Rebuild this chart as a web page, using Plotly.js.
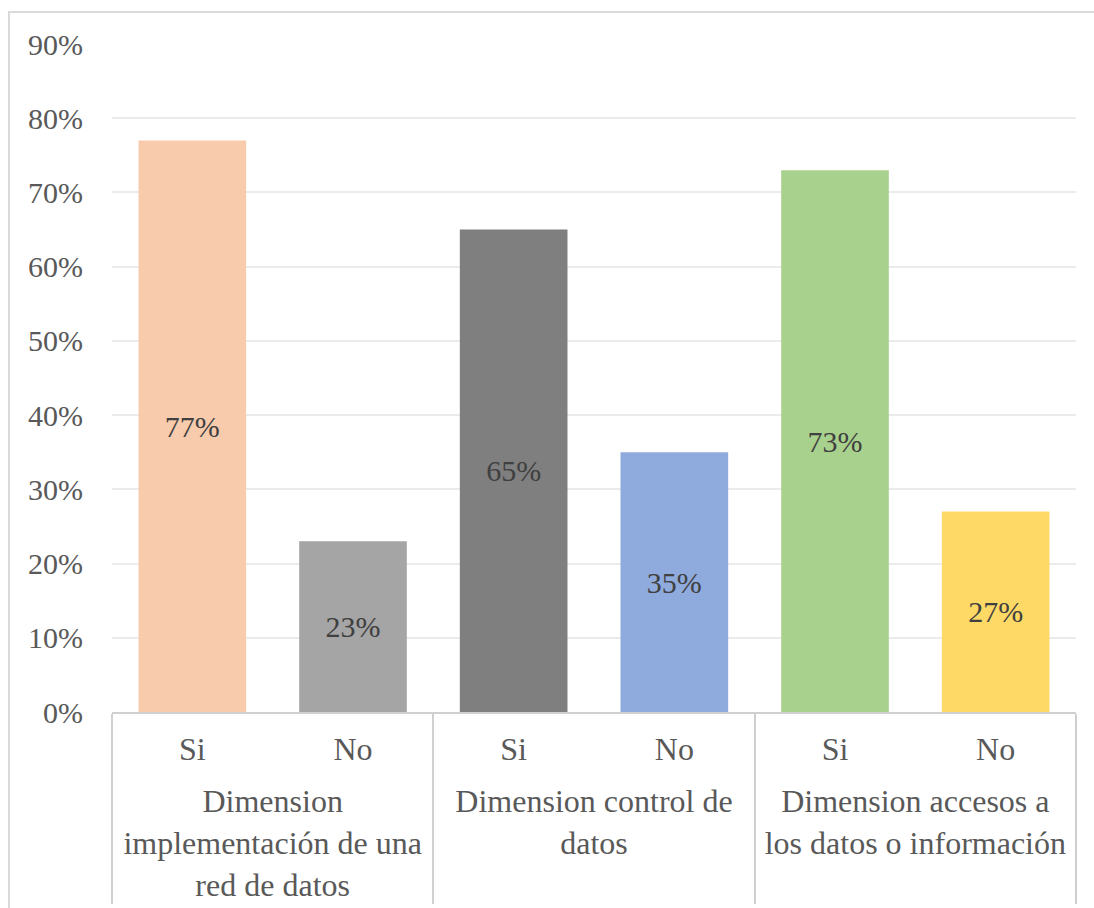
<!DOCTYPE html>
<html>
<head>
<meta charset="utf-8">
<script src="https://cdn.plot.ly/plotly-3.0.1.min.js"></script>
<style>
  html, body { margin: 0; padding: 0; background: #fff; overflow: hidden; }
  #frame { position: absolute; left: 8px; top: 11px; width: 1200px; height: 1000px;
           border: 2px solid #d9d9d9; box-sizing: border-box; pointer-events: none; z-index: 2; }
  #chart { position: absolute; left: 0; top: 0; width: 1094px; height: 908px; }
</style>
</head>
<body>
<div id="chart"></div>
<div id="frame"></div>
<script>
// Dimension groups (outer axis level) and answers (inner axis level)
const groups = [
  "Dimension<br>implementación de una<br>red de datos",
  "Dimension<br>implementación de una<br>red de datos",
  "Dimension control de<br>datos",
  "Dimension control de<br>datos",
  "Dimension accesos a<br>los datos o información",
  "Dimension accesos a<br>los datos o información"
];
const answers = ["Si", "No", "Si", "No", "Si", "No"];
const shares = [0.77, 0.23, 0.65, 0.35, 0.73, 0.27];
const barColors = ["#F8CBAD", "#A5A5A5", "#7F7F7F", "#8FAADC", "#A9D18E", "#FFD966"];
const yTicks = [0, 0.1, 0.2, 0.3, 0.4, 0.5, 0.6, 0.7, 0.8, 0.9];

const serif = "Liberation Serif";

// Tall balanced spacers around each answer label leave room above the group labels
const strut = '<span style="font-size:53px">&nbsp;</span>';
const answerLabels = answers.map(a => strut + a + strut);

const trace = {
  type: "bar",
  x: [groups, answerLabels],
  y: shares,
  marker: { color: barColors, line: { width: 0 } },
  texttemplate: "%{y:.0%}",
  textposition: "inside",
  insidetextanchor: "middle",
  textangle: 0,
  textfont: { family: serif, size: 30, color: "#404040" },
  hoverinfo: "skip"
};

const layout = {
  width: 1094,
  height: 908,
  margin: { l: 112, r: 18, t: 44, b: 196 },
  paper_bgcolor: "#ffffff",
  plot_bgcolor: "#ffffff",
  showlegend: false,
  bargap: 0.33,
  font: { family: serif, size: 30, color: "#595959" },
  xaxis: {
    type: "multicategory",
    showline: true,
    linecolor: "#d0d0d0",
    linewidth: 2,
    showgrid: false,
    ticks: "",
    tickangle: 0,
    showdividers: true,
    dividercolor: "#d0d0d0",
    dividerwidth: 2,
    ticklabelstandoff: 8,
    tickfont: { family: serif, size: 32, color: "#595959" }
  },
  yaxis: {
    range: [0, 0.9],
    tickvals: yTicks,
    tickformat: ".0%",
    showgrid: true,
    gridcolor: "#ebebeb",
    gridwidth: 2,
    zeroline: false,
    showline: false,
    ticks: "",
    ticklabelstandoff: 28,
    tickfont: { family: serif, size: 30, color: "#595959" }
  }
};

Plotly.newPlot("chart", [trace], layout, { staticPlot: true, displayModeBar: false });
</script>
</body>
</html>
